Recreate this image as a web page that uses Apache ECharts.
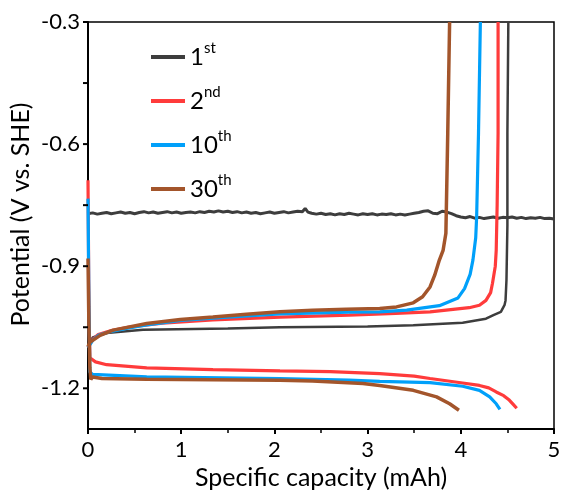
<!DOCTYPE html>
<html>
<head>
<meta charset="utf-8">
<script src="https://cdn.jsdelivr.net/npm/echarts@6/dist/echarts.min.js"></script>
<style>html,body{margin:0;padding:0;background:#fff;}#c{width:561px;height:493px;}</style>
</head>
<body>
<div id="c"></div>
<script>
// ---- data ----
const seriesNames = ['1st', '2nd', '10th', '30th'];
const seriesColors = ['#3d3d3d', '#ff3b3b', '#00a0fa', '#a3552b'];
const xTicks = [0, 1, 2, 3, 4, 5];
const yTicks = [-1.2, -1.05, -0.9, -0.75, -0.6, -0.45, -0.3];
const yLabels = [-1.2, -0.9, -0.6, -0.3];

// 1st cycle: noisy plateau
const c1Flat = [
[0.00,-0.771],[0.05,-0.769],[0.10,-0.772],[0.15,-0.770],[0.20,-0.768],[0.25,-0.771],[0.30,-0.769],[0.35,-0.767],[0.40,-0.770],[0.45,-0.768],
[0.50,-0.771],[0.55,-0.768],[0.60,-0.766],[0.65,-0.769],[0.70,-0.767],[0.75,-0.770],[0.80,-0.768],[0.85,-0.766],[0.90,-0.769],[0.95,-0.767],
[1.00,-0.770],[1.05,-0.768],[1.10,-0.767],[1.15,-0.769],[1.20,-0.766],[1.25,-0.768],[1.30,-0.765],[1.35,-0.767],[1.40,-0.764],[1.45,-0.767],
[1.50,-0.765],[1.55,-0.768],[1.60,-0.766],[1.65,-0.769],[1.70,-0.767],[1.75,-0.770],[1.80,-0.768],[1.85,-0.771],[1.90,-0.769],[1.95,-0.767],
[2.00,-0.770],[2.05,-0.768],[2.10,-0.766],[2.15,-0.769],[2.20,-0.767],[2.25,-0.765],[2.30,-0.766],[2.33,-0.758],[2.36,-0.767],[2.40,-0.770],
[2.45,-0.772],[2.50,-0.770],[2.55,-0.773],[2.60,-0.771],[2.65,-0.774],[2.70,-0.771],[2.75,-0.773],[2.80,-0.770],[2.85,-0.772],[2.90,-0.774],
[2.95,-0.771],[3.00,-0.773],[3.05,-0.771],[3.10,-0.774],[3.15,-0.772],[3.20,-0.773],[3.25,-0.771],[3.30,-0.774],[3.35,-0.772],[3.40,-0.774],
[3.45,-0.772],[3.50,-0.770],[3.55,-0.768],[3.60,-0.765],[3.65,-0.764],[3.70,-0.770],[3.75,-0.771],[3.80,-0.765],[3.85,-0.767],[3.90,-0.771],
[3.95,-0.776],[4.00,-0.779],[4.05,-0.781],[4.10,-0.778],[4.15,-0.782],[4.20,-0.780],[4.25,-0.783],[4.30,-0.781],[4.35,-0.779],[4.40,-0.782],
[4.45,-0.780],[4.50,-0.781],[4.55,-0.779],[4.60,-0.782],[4.65,-0.780],[4.70,-0.783],[4.75,-0.781],[4.80,-0.782],[4.85,-0.780],[4.90,-0.783],
[4.95,-0.782],[5.00,-0.784]
];
const c1Charge = [
[0,-1.100],[0.05,-1.075],[0.2,-1.064],[0.59,-1.056],[1.5,-1.053],[2.06,-1.050],[3.0,-1.048],[3.49,-1.045],[4.02,-1.039],
[4.27,-1.029],[4.35,-1.020],[4.43,-1.012],[4.47,-0.995],[4.48,-0.984],[4.49,-0.934],[4.50,-0.80],[4.50,-0.573],[4.51,-0.30]
];
const c2Discharge = [
[0,-0.689],[0.01,-1.0],[0.02,-1.125],[0.08,-1.135],[0.2,-1.142],[0.63,-1.150],[1.34,-1.154],[2.06,-1.157],[2.6,-1.159],
[3.13,-1.164],[3.5,-1.170],[3.67,-1.176],[4.02,-1.187],[4.20,-1.193],[4.30,-1.199],[4.38,-1.209],[4.46,-1.218],[4.52,-1.229],[4.56,-1.239],[4.60,-1.249]
];
const c2Charge = [
[0,-1.100],[0.05,-1.080],[0.11,-1.068],[0.25,-1.058],[0.43,-1.050],[0.8,-1.040],[1.34,-1.032],[2.06,-1.025],[2.8,-1.020],[3.3,-1.016],
[3.67,-1.012],[4.09,-1.002],[4.2,-0.996],[4.27,-0.984],[4.32,-0.965],[4.34,-0.942],[4.37,-0.90],[4.38,-0.861],[4.39,-0.75],[4.40,-0.573],[4.40,-0.30]
];
const c10Discharge = [
[0,-0.734],[0.01,-1.0],[0.02,-1.160],[0.05,-1.166],[0.63,-1.172],[2.06,-1.176],[2.8,-1.180],[3.13,-1.183],[3.67,-1.186],
[4.02,-1.195],[4.20,-1.205],[4.31,-1.221],[4.38,-1.238],[4.42,-1.252]
];
const c10Charge = [
[0,-1.100],[0.05,-1.082],[0.11,-1.070],[0.25,-1.060],[0.43,-1.052],[0.63,-1.044],[1.0,-1.033],[1.5,-1.025],[2.06,-1.017],[2.8,-1.013],
[3.13,-1.012],[3.42,-1.008],[3.77,-0.997],[3.97,-0.978],[4.04,-0.955],[4.10,-0.920],[4.13,-0.885],[4.16,-0.83],[4.17,-0.779],[4.19,-0.573],[4.21,-0.30]
];
const c30Discharge = [
[0,-0.881],[0.01,-1.05],[0.02,-1.150],[0.03,-1.178],[0.05,-1.172],[0.15,-1.176],[0.63,-1.178],[1.34,-1.179],[2.06,-1.180],[2.41,-1.182],
[2.95,-1.188],[3.13,-1.193],[3.49,-1.205],[3.74,-1.221],[3.88,-1.238],[3.98,-1.254]
];
const c30Charge = [
[0,-1.098],[0.02,-1.087],[0.13,-1.070],[0.27,-1.057],[0.63,-1.041],[0.99,-1.031],[1.34,-1.025],[1.70,-1.018],[2.06,-1.012],[2.41,-1.008],
[2.77,-1.006],[3.13,-1.004],[3.31,-1.000],[3.49,-0.990],[3.59,-0.975],[3.67,-0.951],[3.72,-0.922],[3.77,-0.885],[3.81,-0.861],[3.84,-0.819],[3.86,-0.573],[3.88,-0.30]
];

// ---- chart ----
const FONT = 'Lato';
const chart = echarts.init(document.getElementById('c'), null, {renderer: 'canvas'});

function lineSeries(name, data, color, width) {
  return {
    name: name, type: 'line', data: data, showSymbol: false, symbol: 'none',
    lineStyle: {color: color, width: width}, itemStyle: {color: color},
    animation: false, silent: true
  };
}

const supMap = {'1st': ['1', 'st'], '2nd': ['2', 'nd'], '10th': ['10', 'th'], '30th': ['30', 'th']};

const option = {
  animation: false,
  grid: {left: 88, top: 22, right: 7, bottom: 64, containLabel: false, outerBoundsMode: 'none',
         show: true, borderColor: '#000', borderWidth: 1.5, backgroundColor: 'transparent'},
  legend: {
    data: seriesNames,
    orient: 'vertical', left: 146, top: 36,
    icon: 'rect', itemWidth: 34, itemHeight: 4, itemGap: 16,
    formatter: function (n) { const p = supMap[n]; return '{n|' + p[0] + '}{s|' + p[1] + '}'; },
    textStyle: {
      fontFamily: FONT,
      rich: {
        n: {fontSize: 24, fontFamily: FONT, color: '#000', lineHeight: 28},
        s: {fontSize: 15, fontFamily: FONT, color: '#000', padding: [0, 0, 17, 0]}
      }
    }
  },
  xAxis: {
    type: 'value', min: xTicks[0], max: xTicks[xTicks.length - 1], interval: 1,
    name: 'Specific capacity (mAh)', nameLocation: 'middle', nameGap: 36, nameMoveOverlap: false,
    nameTextStyle: {fontFamily: FONT, fontSize: 25, color: '#000'},
    axisLine: {show: true, lineStyle: {color: '#000', width: 2}},
    axisTick: {show: true, inside: false, length: 5, lineStyle: {color: '#000', width: 2}},
    minorTick: {show: true, splitNumber: 2, length: 4, lineStyle: {color: '#000', width: 1.5}},
    axisLabel: {fontFamily: FONT, fontSize: 22, color: '#000', margin: 10},
    splitLine: {show: false}
  },
  yAxis: {
    type: 'value', min: -1.3, max: -0.3, interval: 0.05,
    name: 'Potential (V vs. SHE)', nameLocation: 'middle', nameGap: 55, nameMoveOverlap: false,
    nameTextStyle: {fontFamily: FONT, fontSize: 25, color: '#000', padding: [0, 0, 0, 22]},
    axisLine: {show: true, lineStyle: {color: '#000', width: 2}},
    axisTick: {show: false},
    axisLabel: {
      fontFamily: FONT, fontSize: 22, color: '#000', margin: 8,
      formatter: function (v) {
        return yLabels.some(function (l) { return Math.abs(l - v) < 1e-6; }) ? v.toFixed(1) : '';
      }
    },
    splitLine: {show: false}
  },
  series: [
    lineSeries('1st', c1Flat, seriesColors[0], 3),
    lineSeries('1st', c1Charge, seriesColors[0], 2.5),
    lineSeries('2nd', c2Discharge, seriesColors[1], 3.2),
    lineSeries('2nd', c2Charge, seriesColors[1], 3.2),
    lineSeries('10th', c10Discharge, seriesColors[2], 3.2),
    lineSeries('10th', c10Charge, seriesColors[2], 3.2),
    lineSeries('30th', c30Discharge, seriesColors[3], 3.5),
    lineSeries('30th', c30Charge, seriesColors[3], 3.5),
    {
      type: 'custom', silent: true, clip: false, z: 5,
      data: yTicks.map(function (v) { return [xTicks[0], v]; }),
      renderItem: function (params, api) {
        const p = api.coord([api.value(0), api.value(1)]);
        return {type: 'line', shape: {x1: p[0] - 5, y1: p[1], x2: p[0], y2: p[1]}, style: {stroke: '#000', lineWidth: 2}};
      }
    }
  ]
};
chart.setOption(option);
</script>
</body>
</html>
